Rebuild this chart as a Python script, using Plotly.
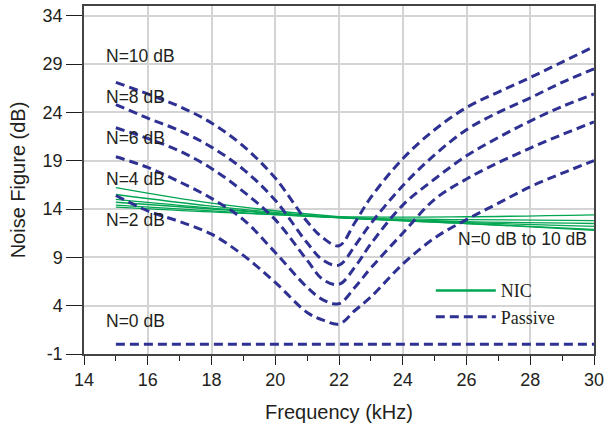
import plotly.graph_objects as go

# ---- data ----
freq_passive = [15, 16, 17, 18, 19, 20, 21, 21.5, 22, 22.5, 23, 24, 25, 26, 27, 28, 29, 30]
passive_n10 = [27.1, 25.9, 24.6, 22.9, 20.5, 17.2, 12.7, 11.0, 10.2, 12.6, 15.2, 19.2, 22.2, 24.5, 26.1, 27.6, 29.2, 30.8]
passive_n8 = [24.8, 23.4, 22.1, 20.4, 18.1, 14.9, 10.5, 8.7, 8.2, 10.2, 12.5, 16.4, 19.6, 22.2, 24.0, 25.5, 27.1, 28.5]
passive_n6 = [22.4, 21.3, 20.0, 18.2, 15.8, 12.9, 8.7, 6.7, 6.2, 8.0, 10.4, 14.4, 17.1, 19.5, 21.4, 23.1, 24.6, 25.9]
passive_n4 = [19.4, 18.3, 16.8, 15.1, 12.9, 9.5, 5.9, 4.6, 4.2, 5.9, 7.9, 11.5, 15.0, 17.1, 18.8, 20.3, 21.7, 23.0]
passive_n2 = [15.4, 13.8, 12.7, 11.4, 9.2, 6.4, 3.3, 2.5, 2.1, 3.5, 4.9, 8.3, 11.0, 12.9, 14.6, 16.3, 17.7, 19.0]
freq_n0 = [15, 30]
passive_n0 = [0.0, 0.0]

freq_nic = [15, 18, 22, 26, 30]
nic_lines = {
    "NIC N=10 dB": [16.2, 14.6, 13.2, 12.5, 11.8],
    "NIC N=8 dB": [15.5, 14.3, 13.1, 12.5, 11.9],
    "NIC N=6 dB": [15.0, 14.1, 13.1, 12.6, 12.2],
    "NIC N=4 dB": [14.7, 14.0, 13.1, 12.7, 12.5],
    "NIC N=2 dB": [14.4, 13.8, 13.1, 12.9, 12.8],
    "NIC N=0 dB": [14.2, 13.7, 13.2, 13.2, 13.4],
}

labels = ["N=10 dB", "N=8 dB", "N=6 dB", "N=4 dB", "N=2 dB", "N=0 dB", "N=0 dB to 10 dB"]
label_x = [14.63, 14.63, 14.63, 14.63, 14.63, 14.63, 25.66]
label_y = [29.8, 25.6, 21.3, 17.1, 12.9, 2.4, 10.9]

x_ticks = [14, 16, 18, 20, 22, 24, 26, 28, 30]
x_tick_text = ["14", "16", "18", "20", "22", "24", "26", "28", "30"]
y_ticks = [-1, 4, 9, 14, 19, 24, 29, 34]
y_tick_text = ["-1", "4", "9", "14", "19", "24", "29", "34"]

BLUE = "#2E3192"
GREEN = "#00A651"
DASH = "9px,5px"

fig = go.Figure()

for name, ys in nic_lines.items():
    fig.add_trace(go.Scatter(x=freq_nic, y=ys, mode="lines", name=name,
                             line=dict(color=GREEN, width=1.3, shape="spline"),
                             showlegend=False))

for name, ys in [("N=10", passive_n10), ("N=8", passive_n8), ("N=6", passive_n6),
                 ("N=4", passive_n4), ("N=2", passive_n2)]:
    fig.add_trace(go.Scatter(x=freq_passive, y=ys, mode="lines", name=name,
                             line=dict(color=BLUE, width=3, dash=DASH, shape="spline", smoothing=1.0),
                             showlegend=False))
fig.add_trace(go.Scatter(x=freq_n0, y=passive_n0, mode="lines", name="N=0",
                         line=dict(color=BLUE, width=3, dash=DASH), showlegend=False))

# legend proxies
fig.add_trace(go.Scatter(x=[None], y=[None], mode="lines", name="NIC",
                         line=dict(color=GREEN, width=2.5)))
fig.add_trace(go.Scatter(x=[None], y=[None], mode="lines", name="Passive",
                         line=dict(color=BLUE, width=3, dash=DASH)))

for t, xx, yy in zip(labels, label_x, label_y):
    fig.add_annotation(x=xx, y=yy, text=t, showarrow=False, xanchor="left", yanchor="middle",
                       font=dict(family="Liberation Sans, Arial", size=17.5, color="#231F20"))

fig.update_layout(
    width=611, height=427,
    margin=dict(l=84, r=17, t=6, b=73),
    paper_bgcolor="white", plot_bgcolor="white",
    font=dict(family="Liberation Sans, Arial", size=18, color="#231F20"),
    legend=dict(x=0.68, y=0.235, xanchor="left", yanchor="top",
                bgcolor="rgba(255,255,255,0)", itemwidth=60,
                font=dict(family="Liberation Serif, Times New Roman", size=18, color="#231F20"),
                tracegroupgap=0),
)
fig.update_xaxes(range=[14, 30], tickvals=x_ticks, ticktext=x_tick_text, ticks="outside", ticklen=9,
                 tickcolor="#231F20", automargin=False,
                 showgrid=True, gridcolor="#D4D4D4", gridwidth=1.5, zeroline=False,
                 showline=True, linecolor="#444", linewidth=1.5, mirror=True,
                 minor=dict(dtick=1, tick0=14, ticks="outside", ticklen=5, tickcolor="#231F20", showgrid=False),
                 title=dict(text="Frequency (kHz)", font=dict(size=20), standoff=16))
fig.update_yaxes(range=[-1, 35], tickvals=y_ticks, ticktext=y_tick_text, ticks="outside", ticklen=16,
                 tickcolor="#231F20", automargin=False,
                 showgrid=True, gridcolor="#D4D4D4", gridwidth=1.5, zeroline=False,
                 showline=True, linecolor="#444", linewidth=1.5, mirror=True,
                 title=dict(text="Noise Figure (dB)", font=dict(size=20), standoff=12))

fig.write_html("out.html", config={"displayModeBar": False},
               post_script="document.body.style.margin='0px';")
